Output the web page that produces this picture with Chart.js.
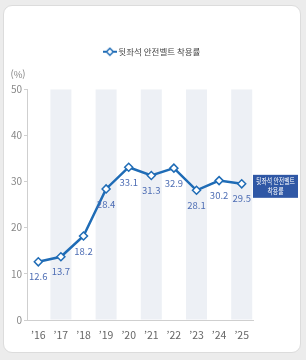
<!DOCTYPE html>
<html lang="ko">
<head>
<meta charset="utf-8">
<script src="https://cdn.jsdelivr.net/npm/chart.js@4"></script>
<style>
    html, body { margin: 0; padding: 0; background: #ececec; width: 306px; height: 360px; overflow: hidden; }
    .card { position: absolute; left: 3px; top: 5px; width: 296px; height: 346px; background: #fff; border: 1px solid #dcdcdc; border-radius: 9px; }
    .wrap { position: absolute; left: 0; top: 0; width: 306px; height: 360px; }
</style>
</head>
<body>
<div class="card"></div>
<div class="wrap"><canvas id="beltChart" width="306" height="360"></canvas></div>
<script>
// 연도 / 착용률 데이터
const years = ['’16', '’17', '’18', '’19', '’20', '’21', '’22', '’23', '’24', '’25'];
const beltRate = [12.6, 13.7, 18.2, 28.4, 33.1, 31.3, 32.9, 28.1, 30.2, 29.5];
const bandValues = [null, 50, null, 50, null, 50, null, 50, null, 50];
const yTicks = [0, 10, 20, 30, 40, 50];
const seriesName = '뒷좌석 안전벨트 착용률';
const boxLines = ['뒷좌석 안전벨트', '착용률'];

const lineColor = '#1f6cb6';
const labelColor = '#4d6db4';
const narrow = "'Liberation Sans Narrow', 'Noto Sans CJK KR', sans-serif";

// 범례 아이콘 (선 + 마름모)
function legendIcon() {
    const c = document.createElement('canvas');
    c.width = 14; c.height = 10;
    const g = c.getContext('2d');
    g.strokeStyle = lineColor;
    g.lineWidth = 2;
    g.beginPath(); g.moveTo(0, 5); g.lineTo(14, 5); g.stroke();
    g.fillStyle = '#fff';
    g.lineWidth = 1.5;
    g.beginPath(); g.moveTo(7, 1.5); g.lineTo(10.5, 5); g.lineTo(7, 8.5); g.lineTo(3.5, 5); g.closePath();
    g.fill(); g.stroke();
    return c;
}

// 값 라벨, (%) 표시, 오른쪽 박스
const extras = {
    id: 'extras',
    afterDatasetsDraw(chart) {
        const ctx = chart.ctx;
        const area = chart.chartArea;
        const meta = chart.getDatasetMeta(1);
        ctx.save();
        ctx.fillStyle = labelColor;
        ctx.font = '9.5px ' + narrow;
        ctx.textAlign = 'center';
        ctx.textBaseline = 'middle';
        meta.data.forEach((pt, i) => {
            ctx.fillText(String(beltRate[i]), pt.x, pt.y + 15);
        });

        ctx.fillStyle = '#888';
        ctx.font = '9.5px ' + narrow;
        ctx.fillText('(%)', 18, area.top - 15);

        const last = meta.data[meta.data.length - 1];
        const bx = area.right, by = last.y - 9, bw = 45, bh = 23;
        ctx.fillStyle = '#2f57a5';
        ctx.fillRect(bx, by, bw, bh);
        ctx.fillStyle = '#fff';
        ctx.font = '7.5px "Noto Sans CJK KR", sans-serif';
        ctx.translate(bx + bw / 2, by + bh / 2);
        ctx.scale(0.78, 1);
        ctx.fillText(boxLines[0], 0, -5);
        ctx.fillText(boxLines[1], 0, 5);
        ctx.restore();
    }
};

new Chart(document.getElementById('beltChart'), {
    type: 'bar',
    data: {
        labels: years,
        datasets: [
            {
                type: 'bar',
                label: 'band',
                data: bandValues,
                backgroundColor: '#edf0f5',
                borderWidth: 0,
                categoryPercentage: 1,
                barPercentage: 0.93,
                order: 2
            },
            {
                type: 'line',
                label: seriesName,
                data: beltRate,
                borderColor: lineColor,
                borderWidth: 2.5,
                pointStyle: 'rectRot',
                pointRadius: 4,
                pointBorderWidth: 1.5,
                pointBackgroundColor: '#fff',
                pointBorderColor: lineColor,
                tension: 0,
                order: 1
            }
        ]
    },
    options: {
        responsive: false,
        animation: false,
        layout: { padding: { top: 37.5, left: 0, right: 0, bottom: 0 } },
        plugins: {
            tooltip: { enabled: false },
            legend: {
                position: 'top',
                weight: 3000,
                labels: {
                    usePointStyle: true,
                    color: '#444',
                    font: { size: 8.5, family: '"Noto Sans CJK KR", sans-serif' },
                    padding: 10,
                    filter: item => item.datasetIndex === 1,
                    generateLabels: chart => [{
                        text: seriesName,
                        pointStyle: legendIcon(),
                        datasetIndex: 1,
                        fontColor: '#444',
                        lineWidth: 0
                    }]
                }
            },
            // 범례와 그래프 사이 여백
            subtitle: {
                display: true,
                text: '',
                font: { size: 1 },
                padding: { top: 0, bottom: 22 }
            }
        },
        scales: {
            x: {
                grid: { display: false, drawTicks: false },
                border: { color: '#cfcfcf', width: 1 },
                ticks: { color: '#666', font: { size: 10.5, family: narrow }, padding: 9 },
                afterFit: s => { s.height = 40; }
            },
            y: {
                min: 0,
                max: 50,
                afterBuildTicks: s => { s.ticks = yTicks.map(v => ({ value: v })); },
                grid: { drawOnChartArea: false, drawTicks: true, tickLength: 3, color: '#cfcfcf' },
                border: { color: '#cfcfcf', width: 1 },
                ticks: { color: '#888', font: { size: 10, family: narrow }, padding: 2 },
                afterFit: s => { s.width = 27; }
            },
            // 오른쪽 박스 자리
            side: {
                type: 'linear',
                position: 'right',
                grid: { display: false, drawTicks: false },
                border: { display: false },
                ticks: { display: false },
                afterFit: s => { s.width = 53; }
            }
        }
    },
    plugins: [extras]
});
</script>
</body>
</html>
